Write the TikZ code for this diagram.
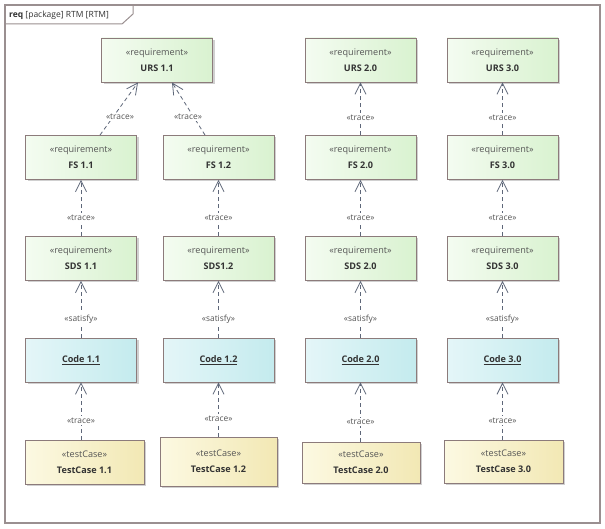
\documentclass[tikz,border=0pt]{standalone}
\usepackage{fontspec}
\setmainfont{Open Sans}
\usetikzlibrary{arrows.meta,shadows}

\definecolor{boxline}{HTML}{8C7B7B}
\definecolor{frameline}{HTML}{9A8F90}
\definecolor{depline}{HTML}{5E6779}
\definecolor{reqL}{HTML}{F4FCF1}
\definecolor{reqR}{HTML}{D9F2D0}
\definecolor{codeL}{HTML}{E4F6F8}
\definecolor{codeR}{HTML}{C4EBEE}
\definecolor{tcL}{HTML}{FCF9E2}
\definecolor{tcR}{HTML}{F2E8B4}
\definecolor{stereo}{HTML}{555555}
\definecolor{txt}{HTML}{333333}

\tikzset{
  elem/.style={draw=boxline, line width=0.9pt, rectangle, align=center,
    minimum width=111pt, minimum height=44pt, inner sep=0pt,
    text=txt, font=\fontsize{9.1}{16}\selectfont,
    drop shadow={shadow xshift=2pt, shadow yshift=-2pt, fill=black!30, opacity=0.6}},
  reqbox/.style={elem, left color=reqL, right color=reqR},
  codebox/.style={elem, left color=codeL, right color=codeR},
  tcbox/.style={elem, left color=tcL, right color=tcR},
  dep/.style={draw=depline, line width=0.8pt, dash pattern=on 4pt off 3pt,
    -{Straight Barb[length=11pt,width=11pt,line width=0.8pt]}},
  deplabel/.style={fill=white, inner sep=1.5pt, text=stereo,
    font=\fontsize{8.4}{10}\selectfont},
}

\newcommand{\stereotype}[2]{{\color{stereo}\guillemotleft#1\guillemotright}\\\textbf{#2}}
\newcommand{\codename}[1]{\underline{\textbf{#1}}}

\begin{document}
\begin{tikzpicture}[x=1pt,y=-1pt]
  \useasboundingbox (0,0) rectangle (605,529);
  \fill[white] (0,0) rectangle (605,529);

  % diagram frame with its name tab
  \draw[frameline, line width=1.2pt] (5,5) rectangle (600,523);
  \draw[frameline, line width=1pt] (5,24) -- (122,24) -- (133,14) -- (133,5);
  \node[anchor=west, inner sep=0pt, text=txt, font=\fontsize{8.5}{10}\selectfont]
    (title) at (9,15) {\textbf{req} [package] RTM [RTM]};

  % requirements: URS level
  \node[reqbox] (urs11) at (157,60)   {\stereotype{requirement}{URS 1.1}};
  \node[reqbox] (urs20) at (360.5,60) {\stereotype{requirement}{URS 2.0}};
  \node[reqbox] (urs30) at (502.5,60) {\stereotype{requirement}{URS 3.0}};

  % requirements: FS level
  \node[reqbox] (fs11) at (81,157.5)    {\stereotype{requirement}{FS 1.1}};
  \node[reqbox] (fs12) at (218.5,157.5) {\stereotype{requirement}{FS 1.2}};
  \node[reqbox] (fs20) at (360.5,157.5) {\stereotype{requirement}{FS 2.0}};
  \node[reqbox] (fs30) at (502.5,157.5) {\stereotype{requirement}{FS 3.0}};

  % requirements: SDS level
  \node[reqbox] (sds11) at (81,258.5)    {\stereotype{requirement}{SDS 1.1}};
  \node[reqbox] (sds12) at (218.5,258.5) {\stereotype{requirement}{SDS1.2}};
  \node[reqbox] (sds20) at (360.5,258.5) {\stereotype{requirement}{SDS 2.0}};
  \node[reqbox] (sds30) at (502.5,258.5) {\stereotype{requirement}{SDS 3.0}};

  % code artifacts
  \node[codebox] (code11) at (81,360)    {\codename{Code 1.1}};
  \node[codebox] (code12) at (218.5,360) {\codename{Code 1.2}};
  \node[codebox] (code20) at (360.5,360) {\codename{Code 2.0}};
  \node[codebox] (code30) at (502.5,360) {\codename{Code 3.0}};

  % test cases
  \node[tcbox, minimum width=119pt, minimum height=44pt] (tc11) at (84.5,462)
    {\stereotype{testCase}{TestCase 1.1}};
  \node[tcbox, minimum width=117pt, minimum height=49pt] (tc12) at (218.5,461.5)
    {\stereotype{testCase}{TestCase 1.2}};
  \node[tcbox, minimum width=118pt, minimum height=41pt] (tc20) at (361,462.5)
    {\stereotype{testCase}{TestCase 2.0}};
  \node[tcbox, minimum width=119pt, minimum height=43pt] (tc30) at (503.5,461.5)
    {\stereotype{testCase}{TestCase 3.0}};

  % trace: FS -> URS
  \draw[dep] ([xshift=19pt]fs11.north) -- ([xshift=-19pt]urs11.south);
  \node[deplabel] (l1) at (120,117) {\guillemotleft trace\guillemotright};
  \draw[dep] ([xshift=-13.5pt]fs12.north) -- ([xshift=15pt]urs11.south);
  \node[deplabel] (l2) at (188,117) {\guillemotleft trace\guillemotright};
  \draw[dep] (fs20) -- (urs20) node[deplabel, pos=0.33] {\guillemotleft trace\guillemotright};
  \draw[dep] (fs30) -- (urs30) node[deplabel, pos=0.33] {\guillemotleft trace\guillemotright};

  % trace: SDS -> FS
  \draw[dep] (sds11) -- (fs11) node[deplabel, pos=0.33] {\guillemotleft trace\guillemotright};
  \draw[dep] (sds12) -- (fs12) node[deplabel, pos=0.33] {\guillemotleft trace\guillemotright};
  \draw[dep] (sds20) -- (fs20) node[deplabel, pos=0.33] {\guillemotleft trace\guillemotright};
  \draw[dep] (sds30) -- (fs30) node[deplabel, pos=0.33] {\guillemotleft trace\guillemotright};

  % satisfy: Code -> SDS
  \draw[dep] (code11) -- (sds11) node[deplabel, pos=0.33] {\guillemotleft satisfy\guillemotright};
  \draw[dep] (code12) -- (sds12) node[deplabel, pos=0.33] {\guillemotleft satisfy\guillemotright};
  \draw[dep] (code20) -- (sds20) node[deplabel, pos=0.33] {\guillemotleft satisfy\guillemotright};
  \draw[dep] (code30) -- (sds30) node[deplabel, pos=0.33] {\guillemotleft satisfy\guillemotright};

  % trace: TestCase -> Code
  \draw[dep] (tc11.north -| code11) -- (code11) node[deplabel, pos=0.33] {\guillemotleft trace\guillemotright};
  \draw[dep] (tc12) -- (code12) node[deplabel, pos=0.33] {\guillemotleft trace\guillemotright};
  \draw[dep] (tc20.north -| code20) -- (code20) node[deplabel, pos=0.33] {\guillemotleft trace\guillemotright};
  \draw[dep] (tc30.north -| code30) -- (code30) node[deplabel, pos=0.33] {\guillemotleft trace\guillemotright};
\end{tikzpicture}
\end{document}
